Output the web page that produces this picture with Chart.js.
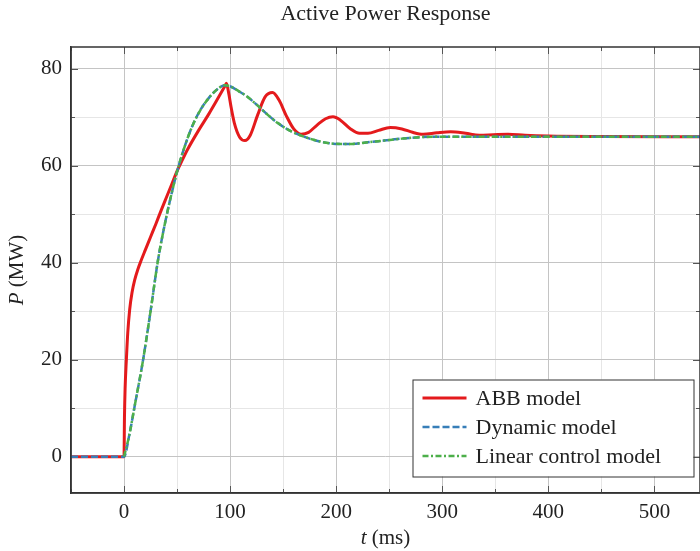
<!DOCTYPE html>
<html>
<head>
<meta charset="utf-8">
<script src="https://cdn.jsdelivr.net/npm/chart.js@4.4.1/dist/chart.umd.min.js"></script>
<style>
  html, body { margin: 0; padding: 0; background: #fff; }
  #wrap { width: 700px; height: 551px; }
</style>
</head>
<body>
<div id="wrap"><canvas id="powerChart" width="700" height="551"></canvas></div>
<script>
// time (ms) and active power (MW)
var tAbb = [-50, 0, 0.4, 1, 2.2, 3.5, 5.3, 7.5, 10, 13, 16, 20, 25, 30, 35, 40, 45, 50, 55, 60, 70, 80, 88, 95,
  96.5, 98.5, 101, 104, 109, 114, 119, 126, 133, 140, 146, 153, 160, 167, 174, 182, 190, 197, 204, 213, 222,
  230, 240, 251, 262, 272, 282, 295, 308, 322, 335, 348, 362, 378, 400, 450, 543];
var pAbb = [0, 0, 8, 14, 20, 25.5, 30.3, 33.8, 36.4, 38.6, 40.4, 42.6, 45.3, 48, 50.8, 53.5, 56.2, 58.9, 61.2, 63.4, 67.2, 70.7, 73.7, 76.4,
  77, 75.2, 72, 68.8, 65.9, 65.2, 66.3, 70.5, 74.2, 75.1, 73.6, 70.3, 67.6, 66.5, 66.9, 68.4, 69.7, 70.1, 69.4, 67.7, 66.7,
  66.7, 67.3, 67.9, 67.6, 66.9, 66.5, 66.8, 67, 66.7, 66.3, 66.4, 66.5, 66.3, 66.15, 66.05, 66];

var tLin = [0, 5, 10, 18, 25, 32, 38, 44, 50, 56, 64, 72, 80, 88, 95, 100, 108, 116, 125, 135, 145,
  155, 165, 175, 185, 195, 205, 215, 228, 245, 262, 280, 300, 350, 543];
var pLin = [0, 4.5, 10.4, 20, 30, 40.5, 47.5, 53.5, 58.8, 63.2, 68, 71.5, 74, 75.8, 76.6, 76.4, 75.4, 74.3, 72.6, 70.6, 68.8,
  67.4, 66.4, 65.6, 65, 64.6, 64.5, 64.5, 64.8, 65.2, 65.6, 65.9, 66, 66, 66];

var tDyn = [-50].concat(tLin);
var pDyn = [0].concat(pLin);

var seriesNames = ["ABB model", "Dynamic model", "Linear control model"];
var xTickLabels = [0, 100, 200, 300, 400, 500];
var yTickLabels = [0, 20, 40, 60, 80];

var serif = "'Liberation Serif', 'DejaVu Serif', serif";

function pts(ts, ps) {
  return ts.map(function (t, i) { return { x: t, y: ps[i] }; });
}

function gridColor(step) {
  return function (ctx) {
    var v = Math.round(ctx.tick.value * 100) / 100;
    if (v % (step * 2) === 0) return '#c4c4c4';
    if (v % step === 0) return '#e6e6e6';
    return 'rgba(0,0,0,0)';
  };
}

// frame, inside ticks, title, axis labels and boxed legend
var decorPlugin = {
  id: 'decor',
  beforeDatasetsDraw: function (chart) {
    var c = chart.ctx, a = chart.chartArea;
    c.save();
    c.strokeStyle = '#555';
    c.lineWidth = 1;
    chart.scales.x.ticks.forEach(function (tk) {
      if (tk.value % 50 !== 0) return;
      var px = Math.round(chart.scales.x.getPixelForValue(tk.value)) + 0.5;
      var len = tk.value % 100 === 0 ? 7 : 4;
      c.beginPath();
      c.moveTo(px, a.bottom); c.lineTo(px, a.bottom - len);
      c.moveTo(px, a.top); c.lineTo(px, a.top + len);
      c.stroke();
    });
    chart.scales.y.ticks.forEach(function (tk) {
      if (tk.value % 10 !== 0) return;
      var py = Math.round(chart.scales.y.getPixelForValue(tk.value)) + 0.5;
      var len = tk.value % 20 === 0 ? 7 : 4;
      c.beginPath();
      c.moveTo(a.left, py); c.lineTo(a.left + len, py);
      c.moveTo(a.right, py); c.lineTo(a.right - len, py);
      c.stroke();
    });
    c.restore();
  },
  afterDraw: function (chart) {
    var c = chart.ctx, a = chart.chartArea;
    var cx = (a.left + a.right) / 2;
    c.save();
    // frame
    c.strokeStyle = '#333';
    c.lineWidth = 1.5;
    c.strokeRect(a.left, a.top, a.right - a.left, a.bottom - a.top);

    // title
    c.fillStyle = '#222';
    c.textAlign = 'center';
    c.textBaseline = 'middle';
    c.font = '22px ' + serif;
    c.fillText('Active Power Response', cx, 14);

    // x label: italic t + (ms)
    var rest = ' (ms)';
    c.font = 'italic 21px ' + serif;
    var w1 = c.measureText('t').width;
    c.font = '21px ' + serif;
    var w2 = c.measureText(rest).width;
    var x0 = cx - (w1 + w2) / 2;
    c.textAlign = 'left';
    c.font = 'italic 21px ' + serif;
    c.fillText('t', x0, 538);
    c.font = '21px ' + serif;
    c.fillText(rest, x0 + w1, 538);

    // y label: italic P + (MW), rotated
    c.save();
    c.translate(17, (a.top + a.bottom) / 2);
    c.rotate(-Math.PI / 2);
    rest = ' (MW)';
    c.font = 'italic 21px ' + serif;
    w1 = c.measureText('P').width;
    c.font = '21px ' + serif;
    w2 = c.measureText(rest).width;
    x0 = -(w1 + w2) / 2;
    c.font = 'italic 21px ' + serif;
    c.fillText('P', x0, 0);
    c.font = '21px ' + serif;
    c.fillText(rest, x0 + w1, 0);
    c.restore();

    // legend box
    var bw = 281, bh = 97;
    var bx = a.right - 6.5 - bw, by = a.bottom - 16.5 - bh;
    c.fillStyle = '#fff';
    c.fillRect(bx, by, bw, bh);
    c.strokeStyle = '#333';
    c.lineWidth = 1;
    c.strokeRect(bx + 0.5, by + 0.5, bw, bh);
    chart.data.datasets.forEach(function (ds, i) {
      var ly = by + 18.5 + i * 29;
      c.strokeStyle = ds.borderColor;
      c.lineWidth = ds.borderWidth;
      c.setLineDash(ds.borderDash || []);
      c.beginPath();
      c.moveTo(bx + 10, ly);
      c.lineTo(bx + 54, ly);
      c.stroke();
      c.setLineDash([]);
      c.fillStyle = '#222';
      c.font = '22px ' + serif;
      c.textAlign = 'left';
      c.textBaseline = 'middle';
      c.fillText(ds.label, bx + 63, ly + 1);
    });
    c.restore();
  }
};

var powerChart = new Chart(document.getElementById('powerChart'), {
  type: 'line',
  data: {
    datasets: [{
      label: seriesNames[0],
      data: pts(tAbb, pAbb),
      borderColor: '#e41a1c',
      borderWidth: 3,
      order: 3
    }, {
      label: seriesNames[1],
      data: pts(tDyn, pDyn),
      borderColor: '#377eb8',
      borderWidth: 2.5,
      borderDash: [7, 3],
      order: 2
    }, {
      label: seriesNames[2],
      data: pts(tLin, pLin),
      borderColor: '#4daf4a',
      borderWidth: 2.5,
      borderDash: [6, 2.5, 2, 2.5],
      order: 1
    }]
  },
  options: {
    responsive: false,
    animation: false,
    layout: { padding: { top: 47, left: 0, right: 0, bottom: 0 } },
    elements: {
      point: { radius: 0 },
      line: { cubicInterpolationMode: 'monotone', fill: false }
    },
    plugins: {
      legend: { display: false },
      title: { display: false },
      tooltip: { enabled: false }
    },
    scales: {
      x: {
        type: 'linear',
        min: -50,
        max: 543,
        afterFit: function (s) { s.height = 58; s.paddingLeft = 0; s.paddingRight = 0; },
        ticks: {
          stepSize: 50,
          includeBounds: false,
          autoSkip: false,
          maxRotation: 0,
          padding: 7,
          color: '#222',
          font: { family: serif, size: 21 },
          callback: function (v) { return xTickLabels.indexOf(v) >= 0 ? String(v) : ''; }
        },
        grid: { color: gridColor(50), drawTicks: false, lineWidth: 1 },
        border: { display: true, color: '#333', width: 1.5 }
      },
      y: {
        type: 'linear',
        min: -7.5,
        max: 84.5,
        afterFit: function (s) { s.width = 71; s.paddingTop = 0; s.paddingBottom = 0; },
        ticks: {
          stepSize: 10,
          includeBounds: false,
          autoSkip: false,
          padding: 9,
          color: '#222',
          font: { family: serif, size: 21 },
          callback: function (v) { return yTickLabels.indexOf(v) >= 0 ? String(v) : ''; }
        },
        grid: { color: gridColor(10), drawTicks: false, lineWidth: 1 },
        border: { display: true, color: '#333', width: 1.5 }
      }
    }
  },
  plugins: [decorPlugin]
});
</script>
</body>
</html>
